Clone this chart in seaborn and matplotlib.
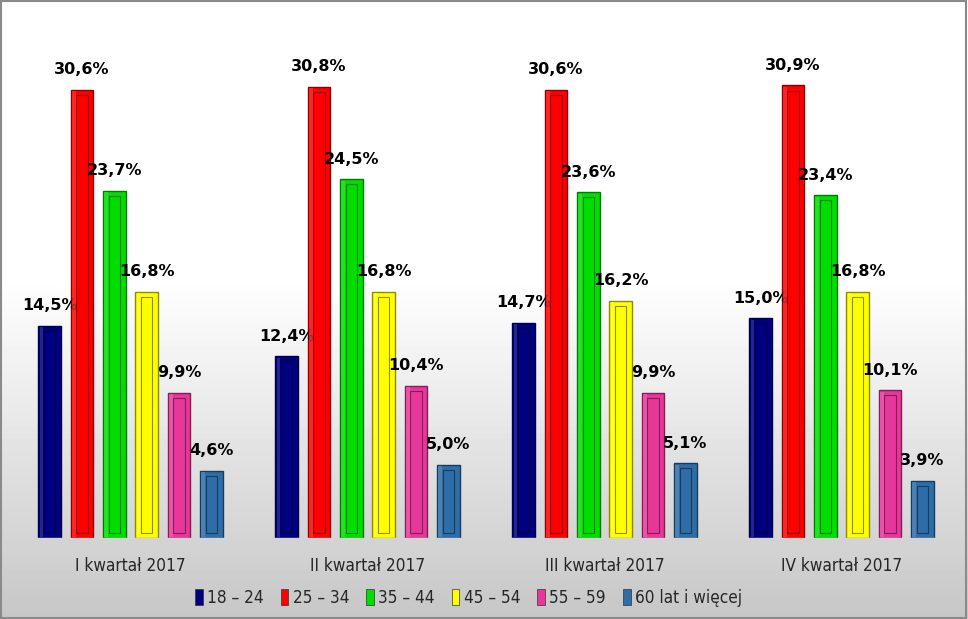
import numpy as np
import pandas as pd
import matplotlib.pyplot as plt
import matplotlib.colors as mcolors
from matplotlib.patches import Rectangle
from matplotlib import font_manager
import seaborn as sns

kwartaly = ["I kwartał 2017", "II kwartał 2017", "III kwartał 2017", "IV kwartał 2017"]
grupy = ["18 – 24", "25 – 34", "35 – 44", "45 – 54", "55 – 59", "60 lat i więcej"]
v_18_24 = [14.5, 12.4, 14.7, 15.0]
v_25_34 = [30.6, 30.8, 30.6, 30.9]
v_35_44 = [23.7, 24.5, 23.6, 23.4]
v_45_54 = [16.8, 16.8, 16.2, 16.8]
v_55_59 = [9.9, 10.4, 9.9, 10.1]
v_60 = [4.6, 5.0, 5.1, 3.9]
kolory = ["#000080", "#ff0000", "#00dd00", "#ffff00", "#e8379a", "#2e6da8"]

wartosci = [v_18_24, v_25_34, v_35_44, v_45_54, v_55_59, v_60]
df = pd.DataFrame([
    {"kwartal": k, "grupa": g, "proc": wartosci[j][i]}
    for j, g in enumerate(grupy) for i, k in enumerate(kwartaly)
])

sns.set_style("white")
plt.rcParams["font.family"] = ["DejaVu Sans"]

# waska czcionka do podpisow osi i legendy
waska = font_manager.FontProperties(family="DejaVu Sans", stretch="condensed", size=12.3)

fig = plt.figure(figsize=(9.68, 6.19), dpi=100)

# tlo z gradientem
bg = fig.add_axes([0, 0, 1, 1], zorder=-10)
grad = np.concatenate([np.ones(45), np.linspace(1, 0.78, 55)])[:, None]
bg.imshow(grad, cmap="gray", vmin=0, vmax=1, aspect="auto", extent=[0, 1, 0, 1])
bg.add_patch(Rectangle((0.001, 0.002), 0.997, 0.996, transform=bg.transAxes,
                       fill=False, edgecolor="#8a8a8a", lw=1.5))
bg.set_axis_off()

ax = fig.add_axes([12 / 968, (619 - 538) / 619, 948 / 968, 520 / 619])
ax.patch.set_alpha(0)
sns.barplot(data=df, x="kwartal", y="proc", hue="grupa", hue_order=grupy,
            palette=kolory, width=0.82, gap=0.3, saturation=1, ax=ax)

ax.set_xlim(-0.5, 3.5)
ax.set_ylim(0, 35.5)

# efekt "fazowania" slupkow
for bars, kol in zip(ax.containers, kolory):
    rgb = np.array(mcolors.to_rgb(kol))
    ciemny = tuple(rgb * 0.55)
    jasny = tuple(np.clip(rgb * 0.8 + 0.2, 0, 1))
    for b in bars:
        b.set_edgecolor(ciemny)
        b.set_linewidth(1.0)
        x, w, h = b.get_x(), b.get_width(), b.get_height()
        ax.add_patch(Rectangle((x + w * 0.25, 0.35), w * 0.5, h - 0.7,
                               facecolor=kol, edgecolor=ciemny, lw=0.8, zorder=3))
        ax.add_patch(Rectangle((x + w * 0.06, 0.1), w * 0.16, h - 0.2,
                               facecolor=jasny, edgecolor="none", alpha=0.7, zorder=3))
    ax.bar_label(bars, labels=[f"{v:.1f}%".replace(".", ",") for v in bars.datavalues],
                 padding=9, fontsize=11.5, fontweight="bold", color="black")

ax.axhline(0, color="#d0d0d0", lw=1)
for s in ax.spines.values():
    s.set_visible(False)
ax.set_yticks([])
ax.set_xlabel("")
ax.set_ylabel("")
ax.tick_params(axis="x", length=0, pad=14)
for t in ax.get_xticklabels():
    t.set_fontproperties(waska)

h, l = ax.get_legend_handles_labels()
ax.get_legend().remove()
leg = fig.legend(h, l, loc="center", bbox_to_anchor=(0.484, (619 - 598) / 619), ncol=6,
                 frameon=False, handlelength=0.45, handleheight=1.1, handletextpad=0.25,
                 columnspacing=1.0, prop=waska)
for p in leg.get_patches():
    p.set_edgecolor("#333333")
    p.set_linewidth(0.5)

plt.savefig("out.png", dpi=100)
